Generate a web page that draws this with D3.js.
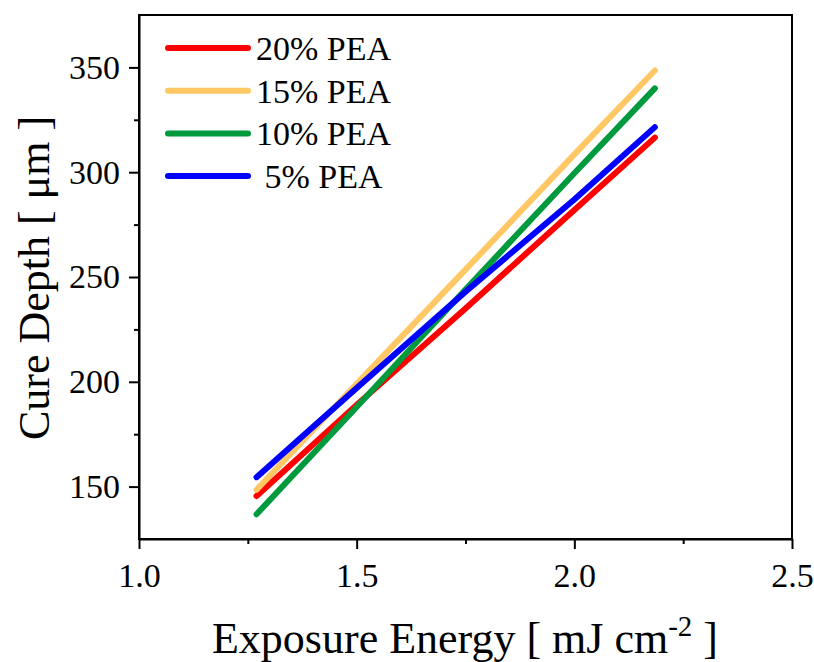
<!DOCTYPE html>
<html>
<head>
<meta charset="utf-8">
<script src="https://cdn.jsdelivr.net/npm/d3@7"></script>
<style>
  body { margin: 0; background: #fff; }
  text { font-family: "Liberation Serif", "Times New Roman", serif; }
</style>
</head>
<body>
<script>
// data
const energy = [1.27, 1.5, 1.75, 2.0, 2.185];
const pea20 = [145.5, 189, 235, 282, 316.5];
const pea15 = [148.5, 199, 253.5, 308.5, 348.5];
const pea10 = [136.8, 188, 244, 299.5, 340];
const pea5 = [154.5, 197, 243, 287, 321.5];
const seriesNames = ["20% PEA", "15% PEA", "10% PEA", "\u00a05% PEA"];
const seriesColors = ["#ff0000", "#ffc864", "#009a3e", "#0000ff"];
const xTicks = [1.0, 1.5, 2.0, 2.5];
const xMinor = [1.25, 1.75, 2.25];
const yTicks = [150, 200, 250, 300, 350];
const yMinor = [175, 225, 275, 325];

const margin = { top: 15, right: 22, bottom: 123, left: 139 };
const W = 814, H = 662;
const serif = "Liberation Serif, Times New Roman, serif";

const svg = d3.select("body").append("svg")
    .attr("width", W).attr("height", H)
    .attr("font-family", serif);

const x = d3.scaleLinear().domain([1.0, 2.5]).range([margin.left, W - margin.right]);
const y = d3.scaleLinear().domain([125, 375]).range([H - margin.bottom, margin.top]);

// axes
const gx = svg.append("g").attr("transform", "translate(0," + (H - margin.bottom) + ")")
    .call(d3.axisBottom(x).tickValues(xTicks).tickFormat(d3.format(".1f")).tickSize(10).tickSizeOuter(0));
svg.append("g").attr("transform", "translate(0," + (H - margin.bottom) + ")")
    .call(d3.axisBottom(x).tickValues(xMinor).tickFormat("").tickSize(5).tickSizeOuter(0))
    .select(".domain").remove();
const gy = svg.append("g").attr("transform", "translate(" + margin.left + ",0)")
    .call(d3.axisLeft(y).tickValues(yTicks).tickSize(10).tickSizeOuter(0));
svg.append("g").attr("transform", "translate(" + margin.left + ",0)")
    .call(d3.axisLeft(y).tickValues(yMinor).tickFormat("").tickSize(5).tickSizeOuter(0))
    .select(".domain").remove();

svg.selectAll("g").attr("font-family", serif);
svg.selectAll(".tick line").attr("stroke", "#000").attr("stroke-width", 2);
svg.selectAll(".domain").attr("stroke", "#000").attr("stroke-width", 2);
gx.selectAll("text").attr("font-size", 34).attr("y", 24).attr("fill", "#000");
gy.selectAll("text").attr("font-size", 34).attr("x", -19).attr("fill", "#000");

// frame
svg.append("rect")
    .attr("x", margin.left).attr("y", margin.top)
    .attr("width", W - margin.right - margin.left)
    .attr("height", H - margin.bottom - margin.top)
    .attr("fill", "none").attr("stroke", "#000").attr("stroke-width", 2);

// lines
const allSeries = [pea20, pea15, pea10, pea5];
const line = d3.line().x((d, i) => x(energy[i])).y(d => y(d));
allSeries.forEach(function (s, k) {
    svg.append("path")
        .attr("d", line(s))
        .attr("fill", "none")
        .attr("stroke", seriesColors[k])
        .attr("stroke-width", 6)
        .attr("stroke-linecap", "round")
        .attr("stroke-linejoin", "round");
});

// legend
const leg = svg.append("g");
seriesNames.forEach(function (name, k) {
    const ly = 48 + k * 42.7;
    leg.append("line")
        .attr("x1", 168).attr("x2", 248)
        .attr("y1", ly).attr("y2", ly)
        .attr("stroke", seriesColors[k]).attr("stroke-width", 6)
        .attr("stroke-linecap", "round");
    leg.append("text")
        .attr("x", 256).attr("y", ly + 12)
        .attr("font-size", 34)
        .text(name);
});

// axis titles
svg.append("text")
    .attr("x", 465).attr("y", 653)
    .attr("text-anchor", "middle")
    .attr("font-size", 44)
    .html('Exposure Energy [ mJ cm<tspan dy="-17" font-size="29">-2</tspan><tspan dy="17"> ]</tspan>');

svg.append("text")
    .attr("transform", "translate(49,278) rotate(-90)")
    .attr("text-anchor", "middle")
    .attr("font-size", 44)
    .text("Cure Depth [ \u03bcm ]");
</script>
</body>
</html>
